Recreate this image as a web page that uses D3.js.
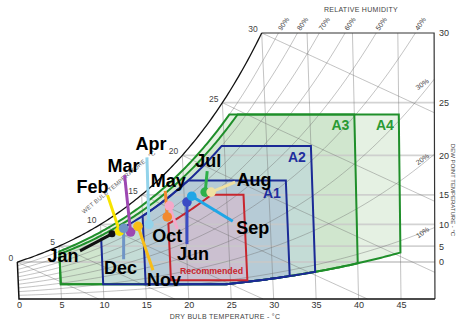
<!DOCTYPE html>
<html>
<head>
<meta charset="utf-8">
<script src="https://cdn.jsdelivr.net/npm/d3@7"></script>
<style>
  body { margin: 0; background: #fff; }
  svg { display: block; font-family: "Liberation Sans", Arial, sans-serif; }
</style>
</head>
<body>
<svg id="chart" width="457" height="325"></svg>
<script>
// ---- data ----
const months    = ["Jan","Feb","Mar","Apr","May","Jun","Jul","Aug","Sep","Oct","Nov","Dec"];
const dryBulb   = [11.3, 12.2, 13.5, 15.7, 17.9, 20.3, 22.5, 23.2, 20.9, 18.2, 14.4, 12.7]; // °C
const dewPoint  = [ 8.0,  8.6,  8.4, 10.0, 11.4, 13.9, 15.4, 15.4, 14.8, 13.3,  9.6,  9.2]; // °C
const monthColors = ["#111111","#f7e400","#9d48b2","#93d3ea","#f28a2e","#3b4cc4",
                     "#2fb04a","#efe0a2","#1fa6e6","#f4a9c9","#f8bd18","#6f95c6"];

// ASHRAE allowable classes + recommended envelope
const classNames = ["A4","A3","A2","A1","Recommended"];
const classTmin  = [5, 5, 10, 15, 18];
const classTmax  = [45, 40, 35, 32, 27];
const classRhMax = [0.90, 0.85, 0.80, 0.80, 0.60];
const classDpMax = [24, 24, 21, 17, 15];
const classDpMin = [-12, -12, -12, -12, -9];
const classRhMin = [0.08, 0.08, 0.08, 0.08, 0];

const dbTicks = [0,5,10,15,20,25,30,35,40,45];
const dpTicks = [0,5,10,15,20,25,30];
const rhLevels = [10,20,30,40,50,60,70,80,90];
const rhTopLabels = [90,80,70,60,50,40];
const rhSideLabels = [30,20,10];
const wbLevels = [0,5,10,15,20,25,30];

// ---- styling / layout ----
const classFill   = ["#e5f1e3","#d0e6ce","#c4dcd6","#b6cbd6","#cbc0d0"];
const classStroke = ["#1f8f2a","#1f8f2a","#1b2a96","#1b2a96","#c8262e"];
const classLabelColor = ["#2a9a34","#2a9a34","#1f2e9e","#1f2e9e","#c8262e"];
// month label centre and leader end, relative to the point
const labelOffset  = [[-49,22],[-27,-45],[-7,-66],[2,-81],[1,-36],[6,51],[3,-32],[43,-13],[61,31],[-2,30],[26,53],[-3,39]];
const leaderOffset = [[-32,17],[-12,-36],[-6,-57],[-2,-67],[-2,-26],[0,42],[2,-21],[24,-10],[41,25],[8,23],[15,44],[0,31]];

// ---- psychrometrics ----
const P = 101.325;
const psat = t => 0.61094 * Math.exp(17.625 * t / (t + 243.04));
const wFromPv = pv => 0.622 * pv / (P - pv);
const wFromDp = td => wFromPv(psat(td));
const wFromRh = (t, rh) => wFromPv(rh * psat(t));
const wWetBulb = (t, twb) =>
  ((2501 - 2.326 * twb) * wFromDp(twb) - 1.006 * (t - twb)) / (2501 + 1.86 * t - 4.186 * twb);
const W_TOP = wFromDp(30);
const T_MAX = 49;

function solveT(f, target, lo, hi) {
  for (let i = 0; i < 60; i++) { const m = (lo + hi) / 2; if (f(m) < target) lo = m; else hi = m; }
  return (lo + hi) / 2;
}

// ---- scales ----
const xBase = d3.scaleLinear().domain([0, 45]).range([19, 401]);
const yW = d3.scaleLinear().domain([0, W_TOP]).range([299, 33]);
const tilt = t => t <= 30 ? 0.045 : Math.max(0, 0.045 - (t - 30) * 0.0022);
const px = (t, w) => xBase(t) - tilt(t) * (yW(0) - yW(w));
const py = w => yW(w);
const line = d3.line().x(d => px(d[0], d[1])).y(d => py(d[1]));

const svg = d3.select("#chart");

// ---- class envelopes ----
function envelope(i) {
  const tmin = classTmin[i], tmax = classTmax[i];
  const wTop = wFromDp(classDpMax[i]), wBot = wFromDp(classDpMin[i]);
  let ts = d3.range(tmin, tmax, 0.25).concat([tmax]);
  const tUp = solveT(t => wFromRh(t, classRhMax[i]), wTop, -20, 60);
  if (tUp > tmin && tUp < tmax) ts.push(tUp);
  if (classRhMin[i] > 0) {
    const tLo = solveT(t => wFromRh(t, classRhMin[i]), wBot, -20, 80);
    if (tLo > tmin && tLo < tmax) ts.push(tLo);
  }
  ts = ts.sort((a, b) => a - b);
  const upper = ts.map(t => [t, Math.min(wTop, wFromRh(t, classRhMax[i]))]);
  const lower = ts.map(t => [t, Math.max(wBot, classRhMin[i] > 0 ? wFromRh(t, classRhMin[i]) : 0)]);
  return upper.concat(lower.reverse());
}
const envelopes = classNames.map((_, i) => envelope(i));

svg.append("g").selectAll("path").data(envelopes).join("path")
  .attr("d", d => line(d) + "Z")
  .attr("fill", (d, i) => classFill[i]);

// ---- grid ----
const grid = svg.append("g").attr("fill", "none");

// dew point lines
grid.selectAll(".dp").data(dpTicks.filter(d => d < 30)).join("path")
  .attr("d", dp => line([[dp, wFromDp(dp)], [T_MAX, wFromDp(dp)]]))
  .attr("stroke", "#c8c8c8").attr("stroke-opacity", 0.8).attr("stroke-width", 1.8);

// dry bulb lines
grid.selectAll(".db").data(dbTicks.filter(t => t > 0)).join("path")
  .attr("d", t => line([[t, 0], [t, Math.min(wFromDp(t), W_TOP)]]))
  .attr("stroke", "#6e6e6e").attr("stroke-opacity", 0.6).attr("stroke-width", 0.7);

// relative humidity curves
grid.selectAll(".rh").data(rhLevels).join("path")
  .attr("d", rh => {
    const tEnd = Math.min(T_MAX, solveT(t => wFromRh(t, rh / 100), W_TOP, 0, 80));
    const ts = d3.range(0, tEnd, 0.5).concat([tEnd]);
    return line(ts.map(t => [t, wFromRh(t, rh / 100)]));
  })
  .attr("stroke", "#6e6e6e").attr("stroke-opacity", 0.6).attr("stroke-width", 0.7);

// wet bulb lines
grid.selectAll(".wb").data(wbLevels).join("path")
  .attr("d", twb => {
    const tZero = twb + (2501 - 2.326 * twb) * wFromDp(twb) / 1.006;
    const tEnd = Math.min(T_MAX, tZero);
    const ts = d3.range(twb, tEnd, 0.5).concat([tEnd]);
    return line(ts.map(t => [t, Math.max(0, wWetBulb(t, twb))]));
  })
  .attr("stroke", "#6e6e6e").attr("stroke-opacity", 0.6).attr("stroke-width", 0.7);

// ---- class borders ----
svg.append("g").selectAll("path").data(envelopes).join("path")
  .attr("d", d => line(d) + "Z")
  .attr("fill", "none")
  .attr("stroke", (d, i) => classStroke[i])
  .attr("stroke-width", 2)
  .attr("stroke-linejoin", "miter");

// ---- frame ----
const satPts = d3.range(0, 30, 0.25).concat([30]).map(t => [t, wFromDp(t)]);
svg.append("path").attr("d", line(satPts)).attr("fill", "none").attr("stroke", "#111").attr("stroke-width", 1.3);
svg.append("path").attr("d", line([[30, W_TOP], [T_MAX, W_TOP], [T_MAX, 0]]))
  .attr("fill", "none").attr("stroke", "#333").attr("stroke-width", 1.2);
svg.append("path").attr("d", line([[0, wFromDp(0)], [0, 0], [T_MAX, 0]]))
  .attr("fill", "none").attr("stroke", "#111").attr("stroke-width", 1.5);

// ---- axes ----
const xAxis = svg.append("g").attr("transform", `translate(0,${yW(0)})`)
  .call(d3.axisBottom(xBase).tickValues(dbTicks).tickSize(0).tickPadding(3));
xAxis.select(".domain").remove();
xAxis.selectAll("text").attr("font-size", 9).attr("fill", "#333").attr("font-family", "Liberation Sans, Arial, sans-serif");

const yAxis = svg.append("g").attr("transform", `translate(${px(T_MAX, 0)},0)`)
  .call(d3.axisRight(yW).tickValues(dpTicks.map(wFromDp)).tickFormat((d, i) => dpTicks[i]).tickSize(0).tickPadding(4));
yAxis.select(".domain").remove();
yAxis.selectAll("text").attr("font-size", 9).attr("fill", "#333").attr("font-family", "Liberation Sans, Arial, sans-serif");

// axis titles
svg.append("text").attr("x", 225).attr("y", 319).attr("text-anchor", "middle")
  .attr("font-size", 7).attr("fill", "#444").attr("letter-spacing", 0.3).text("DRY BULB TEMPERATURE - °C");
svg.append("text").attr("x", 361).attr("y", 12).attr("text-anchor", "middle")
  .attr("font-size", 7).attr("fill", "#444").attr("letter-spacing", 0.3).text("RELATIVE HUMIDITY");
svg.append("text").attr("transform", "translate(451,190) rotate(90)").attr("text-anchor", "middle")
  .attr("font-size", 6).attr("fill", "#444").text("DEW POINT TEMPERATURE - °C");
svg.append("text").attr("transform", "translate(84,214) rotate(-40)")
  .attr("font-size", 6).attr("fill", "#666").attr("letter-spacing", 0.2).text("WET BULB TEMPERATURE - °C");

// wet bulb labels along the saturation curve
svg.append("g").selectAll("text").data(wbLevels).join("text")
  .attr("x", t => px(t, wFromDp(t)) - 4)
  .attr("y", t => py(wFromDp(t)) - 1)
  .attr("text-anchor", "end").attr("font-size", 8.5).attr("fill", "#444")
  .text(t => t);

// RH labels along the top edge
svg.append("g").selectAll("text").data(rhTopLabels).join("text")
  .attr("transform", rh => {
    const t = solveT(tt => wFromRh(tt, rh / 100), W_TOP, 0, 80);
    return `translate(${px(t, W_TOP) + 3},${py(W_TOP) - 2}) rotate(-55)`;
  })
  .attr("font-size", 7).attr("fill", "#444").text(rh => rh + "%");

// RH labels along the right edge
svg.append("g").selectAll("text").data(rhSideLabels).join("text")
  .attr("transform", rh => {
    const w = wFromRh(T_MAX, rh / 100);
    return `translate(${px(T_MAX, w) - 5},${py(w) + 3}) rotate(-35)`;
  })
  .attr("text-anchor", "end").attr("font-size", 7).attr("fill", "#444").text(rh => rh + "%");

// class labels
const classLabelPos = classNames.map((n, i) => {
  if (n === "Recommended") {
    const w = wFromDp(classDpMin[i]);
    return [px(classTmin[i], w) + 9, py(w) - 6, "start", 8.8];
  }
  const w = wFromDp(classDpMax[i]);
  return [px(classTmax[i], w) - 5, py(w) + (n === "A1" ? 18 : 16), "end", 14];
});
svg.append("g").selectAll("text").data(classNames).join("text")
  .attr("x", (d, i) => classLabelPos[i][0])
  .attr("y", (d, i) => classLabelPos[i][1])
  .attr("text-anchor", (d, i) => classLabelPos[i][2])
  .attr("font-size", (d, i) => classLabelPos[i][3])
  .attr("font-weight", "bold")
  .attr("fill", (d, i) => classLabelColor[i])
  .text(d => d);

// ---- monthly points ----
const pts = months.map((m, i) => {
  const w = wFromDp(dewPoint[i]);
  return { m, i, x: px(dryBulb[i], w), y: py(w) };
});

svg.append("g").selectAll("line").data(pts).join("line")
  .attr("x1", d => d.x).attr("y1", d => d.y)
  .attr("x2", d => d.x + leaderOffset[d.i][0]).attr("y2", d => d.y + leaderOffset[d.i][1])
  .attr("stroke", d => monthColors[d.i]).attr("stroke-width", 3);

svg.append("g").selectAll("circle").data(pts).join("circle")
  .attr("cx", d => d.x).attr("cy", d => d.y)
  .attr("r", d => d.i === 0 ? 3.5 : 4.8)
  .attr("fill", d => monthColors[d.i]);

svg.append("g").selectAll("text").data(pts).join("text")
  .attr("x", d => d.x + labelOffset[d.i][0])
  .attr("y", d => d.y + labelOffset[d.i][1] + 6.4)
  .attr("text-anchor", "middle")
  .attr("font-size", 18).attr("font-weight", "bold").attr("fill", "#000")
  .text(d => d.m);
</script>
</body>
</html>
